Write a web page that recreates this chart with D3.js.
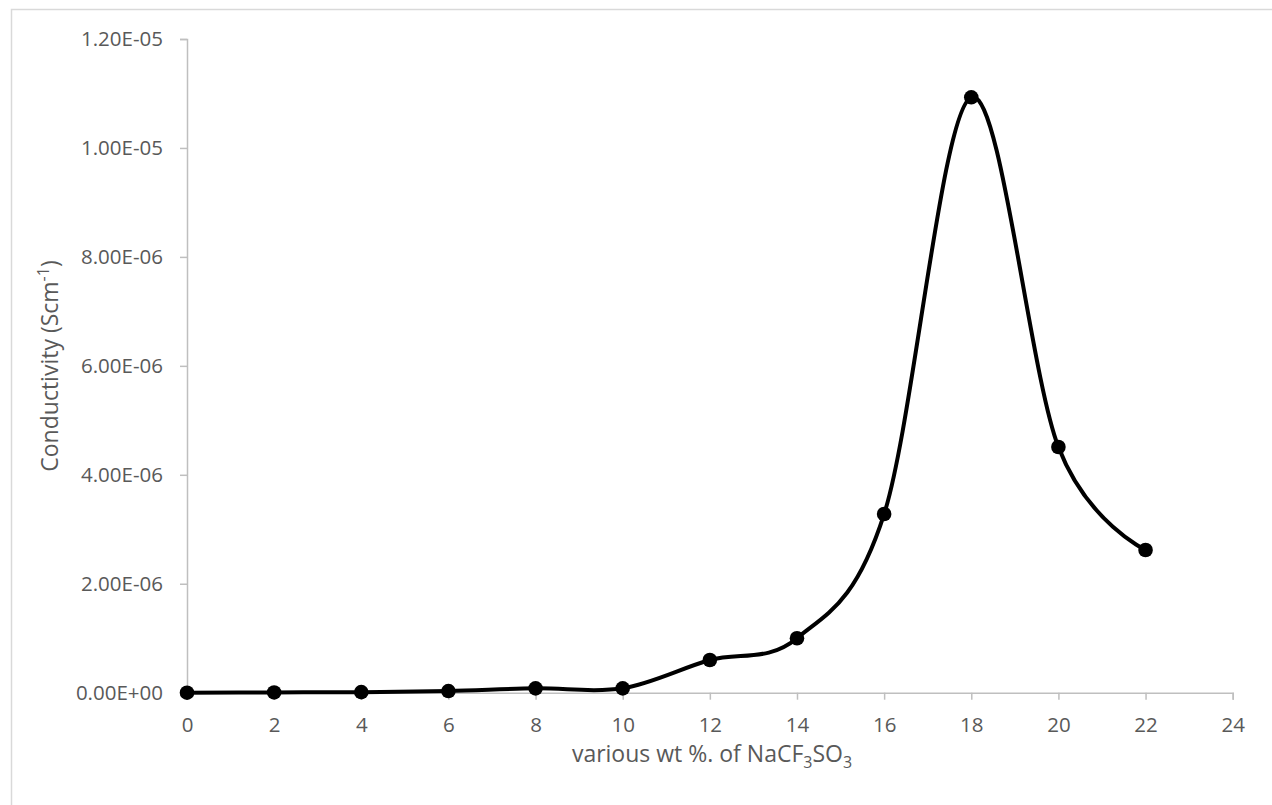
<!DOCTYPE html>
<html>
<head>
<meta charset="utf-8">
<script src="https://cdn.jsdelivr.net/npm/d3@7"></script>
<style>
  body { margin: 0; background: #fff; }
  text { font-family: "Open Sans", "Noto Sans", sans-serif; fill: #595959; }
</style>
</head>
<body>
<svg id="chart" width="1272" height="805"></svg>
<script>
// wt % of NaCF3SO3 and measured conductivity (S/cm)
const wtPercent = [0, 2, 4, 6, 8, 10, 12, 14, 16, 18, 20, 22];
const conductivity = [0, 0.005e-6, 0.01e-6, 0.03e-6, 0.08e-6, 0.08e-6, 0.6e-6, 1.0e-6, 3.28e-6, 10.93e-6, 4.51e-6, 2.62e-6];
const xTicks = [0, 2, 4, 6, 8, 10, 12, 14, 16, 18, 20, 22, 24];
const yTicks = [0, 2e-6, 4e-6, 6e-6, 8e-6, 1.0e-5, 1.2e-5];

const svg = d3.select('#chart');

// chart frame (Excel style, light gray)
svg.append('rect')
  .attr('x', 11.5).attr('y', 9.5)
  .attr('width', 1300).attr('height', 820)
  .attr('fill', 'none').attr('stroke', '#d9d9d9').attr('stroke-width', 1.5);

const x = d3.scaleLinear().domain([0, 24]).range([187, 1232.7]);
const y = d3.scaleLinear().domain([0, 1.2e-5]).range([692.7, 39]);

// 1.20E-05 style labels
function sci(d) {
  if (d === 0) return '0.00E+00';
  let [m, e] = d.toExponential(2).toUpperCase().split('E');
  let sign = e[0];
  let digits = e.slice(1).padStart(2, '0');
  return m + 'E' + sign + digits;
}

const xAxis = d3.axisBottom(x).tickValues(xTicks).tickSizeOuter(0).tickSize(7).tickPadding(18);
const yAxis = d3.axisLeft(y).tickValues(yTicks).tickFormat(sci).tickSizeOuter(0).tickSize(7).tickPadding(17);

const gy = svg.append('g').attr('transform', `translate(${x(0)},0)`).call(yAxis);
const gx = svg.append('g').attr('transform', `translate(0,${y(0)})`).call(xAxis);

[gx, gy].forEach(g => {
  g.select('.domain').attr('stroke', '#bfbfbf').attr('stroke-width', 1.5);
  g.selectAll('.tick line').attr('stroke', '#bfbfbf').attr('stroke-width', 1.5);
  g.selectAll('.tick text').attr('fill', '#595959').style('font-size', '20.5px')
    .style('font-family', '"Open Sans", "Noto Sans", sans-serif');
});

// smoothed line, like Excel's "smoothed line" option
const line = d3.line()
  .x((d, i) => x(wtPercent[i]))
  .y(d => y(d))
  .curve(d3.curveCardinal.tension(0));

svg.append('path')
  .datum(conductivity)
  .attr('d', line)
  .attr('fill', 'none')
  .attr('stroke', '#000')
  .attr('stroke-width', 4);

svg.append('g').selectAll('circle')
  .data(conductivity)
  .join('circle')
  .attr('cx', (d, i) => x(wtPercent[i]))
  .attr('cy', d => y(d))
  .attr('r', 7.3)
  .attr('fill', '#000');

// axis titles
const xt = svg.append('text')
  .attr('x', 712).attr('y', 762)
  .attr('text-anchor', 'middle')
  .style('font-size', '23px');
xt.append('tspan').text('various wt %. of NaCF');
xt.append('tspan').attr('dy', 6).style('font-size', '16px').text('3');
xt.append('tspan').attr('dy', -6).text('SO');
xt.append('tspan').attr('dy', 6).style('font-size', '16px').text('3');

const yt = svg.append('text')
  .attr('transform', 'translate(58,366) rotate(-90)')
  .attr('text-anchor', 'middle')
  .style('font-size', '23px');
yt.append('tspan').text('Conductivity (Scm');
yt.append('tspan').attr('dy', -9).style('font-size', '16px').text('-1');
yt.append('tspan').attr('dy', 9).text(')');
</script>
</body>
</html>
